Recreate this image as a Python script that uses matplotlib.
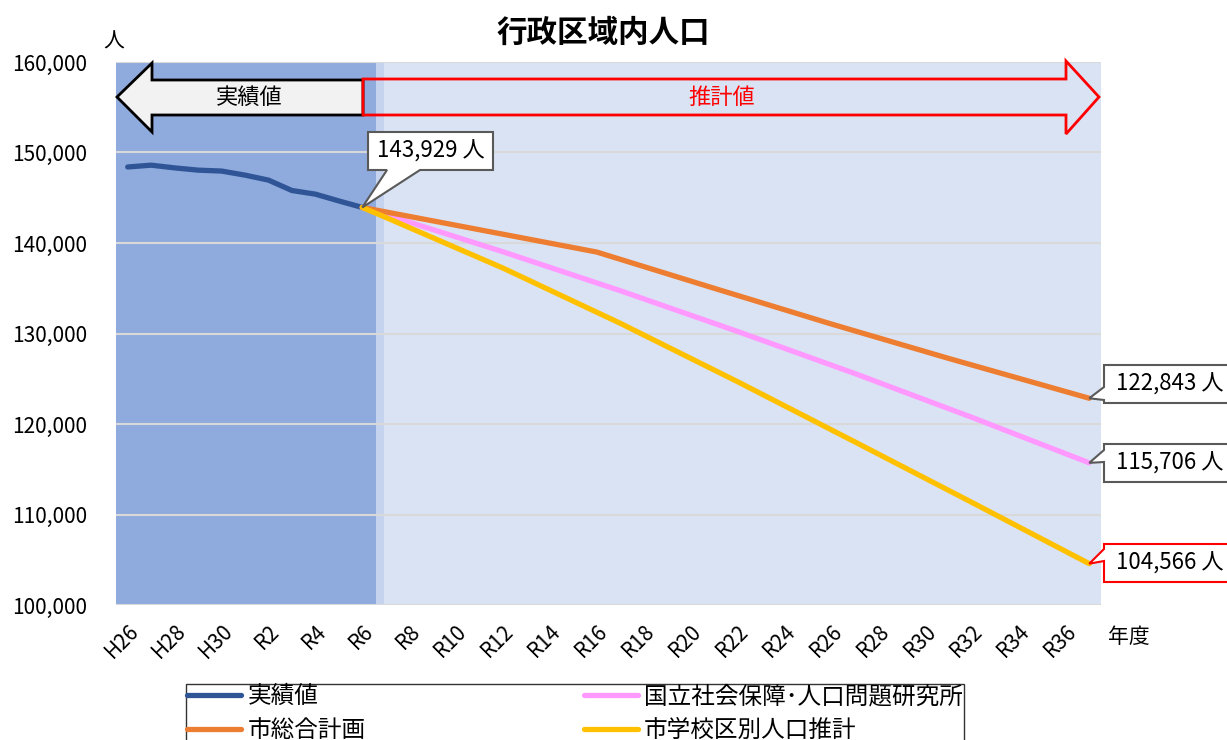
import matplotlib
matplotlib.use("Agg")
import matplotlib.pyplot as plt
from matplotlib.patches import Polygon
from matplotlib.transforms import IdentityTransform

plt.rcParams['font.family'] = ['Noto Sans CJK JP', 'DejaVu Sans']
plt.rcParams['ytick.labelsize'] = 15
plt.rcParams['xtick.labelsize'] = 15

# 年度 (H26 = 2014 ... R37 = 2055)
years = ['H%d' % n for n in range(26, 31)] + ['R%d' % n for n in range(1, 38)]

# 実績値 H26〜R6
actual_years = years[:11]
actual = [148400, 148600, 148300, 148050, 147950, 147500,
          146950, 145800, 145400, 144650, 143929]

# 国立社会保障・人口問題研究所
ipss_years = ['R6', 'R7', 'R12', 'R17', 'R22', 'R27', 'R32', 'R37']
ipss = [143929, 143130, 139030, 134730, 130230, 125580, 120730, 115706]

# 市総合計画
plan_years = ['R6', 'R16', 'R21', 'R26', 'R31', 'R37']
plan = [143929, 139000, 135000, 131050, 127250, 122843]

# 市学校区別人口推計
school_years = ['R6', 'R7', 'R12', 'R17', 'R22', 'R27', 'R32', 'R37']
school = [143929, 142830, 137230, 131130, 124680, 118030, 111330, 104566]

W, H = 1227, 740
fig = plt.figure(figsize=(W / 100, H / 100), dpi=100)
ax = fig.add_axes([116 / W, 1 - 605 / H, (1101 - 116) / W, (605 - 62) / H])


def px(x, y):
    # pixel (top-left origin) -> figure fraction
    return (x / W, 1 - y / H)


def idx(labels):
    return [years.index(l) for l in labels]


# 背景
ax.axvspan(-0.5, 10.57, color='#8FAADC', zorder=0, lw=0)
ax.axvspan(10.57, 10.92, color='#C5D3EE', zorder=0, lw=0)
ax.axvspan(10.92, len(years) - 0.5, color='#DAE3F3', zorder=0, lw=0)

ax.plot(idx(actual_years), actual, color='#2F5597', lw=3.8,
        solid_capstyle='round', solid_joinstyle='round', label='実績値', zorder=3)
ax.plot(idx(ipss_years), ipss, color='#FF99FF', lw=3.8,
        solid_capstyle='round', label='国立社会保障･人口問題研究所', zorder=3)
ax.plot(idx(plan_years), plan, color='#ED7D31', lw=3.8,
        solid_capstyle='round', label='市総合計画', zorder=3)
ax.plot(idx(school_years), school, color='#FFC000', lw=3.8,
        solid_capstyle='round', label='市学校区別人口推計', zorder=3)

ax.set_xlim(-0.5, len(years) - 0.5)
ax.set_ylim(100000, 160000)
yt = list(range(100000, 160001, 10000))
ax.set_yticks(yt, labels=['{:,}'.format(v) for v in yt])
ax.set_xticks(range(0, len(years), 2), labels=years[::2],
              rotation=45, ha='right', va='top', rotation_mode='anchor')
ax.tick_params(axis='y', length=0, pad=21)
ax.tick_params(axis='x', length=0, pad=11)
ax.yaxis.grid(True, color='#D9D9D9', lw=1.5)
ax.set_axisbelow(True)
for s in ax.spines.values():
    s.set_visible(False)

# タイトル・単位
fig.text(*px(603, 33), '行政区域内人口', ha='center', va='center',
         fontsize=22, fontweight='bold')
fig.text(*px(114, 42), '人', ha='center', va='center', fontsize=15)
fig.text(*px(1129, 637), '年度', ha='center', va='center', fontsize=15)

# 実績値 / 推計値 矢印
left_arrow = [(117, 97), (152, 63), (152, 80), (363, 80), (363, 115),
              (152, 115), (152, 132)]
right_arrow = [(363, 79), (1066, 79), (1066, 61), (1099, 97), (1066, 134),
               (1066, 115), (363, 115)]
fig.add_artist(Polygon([px(*p) for p in left_arrow], closed=True,
                       transform=fig.transFigure, fc='#F2F2F2', ec='black',
                       lw=2, zorder=5))
fig.add_artist(Polygon([px(*p) for p in right_arrow], closed=True,
                       transform=fig.transFigure, fc='none', ec='#FF0000',
                       lw=2, zorder=6))
fig.text(*px(249, 97), '実績値', ha='center', va='center', fontsize=16, zorder=7)
fig.text(*px(722, 97), '推計値', ha='center', va='center', fontsize=16,
         color='#FF0000', zorder=7)


# 吹き出し (box in pixel coords, pointer to the data point)
def callout(year, val, box, base, side, ec):
    x0, y0, x1, y1 = box
    pt = tuple(ax.transData.transform((years.index(year), val)))
    f = lambda x, y: (x, H - y)
    if side == 'bottom':
        verts = [f(x0, y0), f(x1, y0), f(x1, y1), f(base[1], y1), pt,
                 f(base[0], y1), f(x0, y1)]
    else:
        verts = [f(x0, y0), f(x1, y0), f(x1, y1), f(x0, y1), f(x0, base[1]),
                 pt, f(x0, base[0])]
    fig.add_artist(Polygon(verts, closed=True, transform=IdentityTransform(),
                           fc='white', ec=ec, lw=1.5, zorder=8))
    fig.text((x0 + min(x1, W + 8)) / 2 / W, 1 - (y0 + y1) / 2 / H,
             '{:,} 人'.format(val), ha='center', va='center', fontsize=16,
             zorder=9)


callout('R6', actual[-1], (368, 132, 493, 170), (387, 420), 'bottom', '#595959')
callout('R37', plan[-1], (1104, 365, 1235, 403), (387, 400), 'left', '#595959')
callout('R37', ipss[-1], (1104, 444, 1235, 482), (450, 462), 'left', '#595959')
callout('R37', school[-1], (1104, 544, 1235, 582), (549, 561), 'left', '#FF0000')

# 凡例
handles, labels = ax.get_legend_handles_labels()
order = [0, 2, 1, 3]
leg = fig.legend([handles[i] for i in order], [labels[i] for i in order],
                 loc='upper left', bbox_to_anchor=px(186, 684), ncol=2,
                 fontsize=17, frameon=True, fancybox=False, edgecolor='black',
                 handlelength=2.3, handletextpad=0.25, columnspacing=9.25,
                 labelspacing=0.45, borderpad=0.05, borderaxespad=0)
leg.get_frame().set_linewidth(1)

fig.savefig('out.png', dpi=100)
